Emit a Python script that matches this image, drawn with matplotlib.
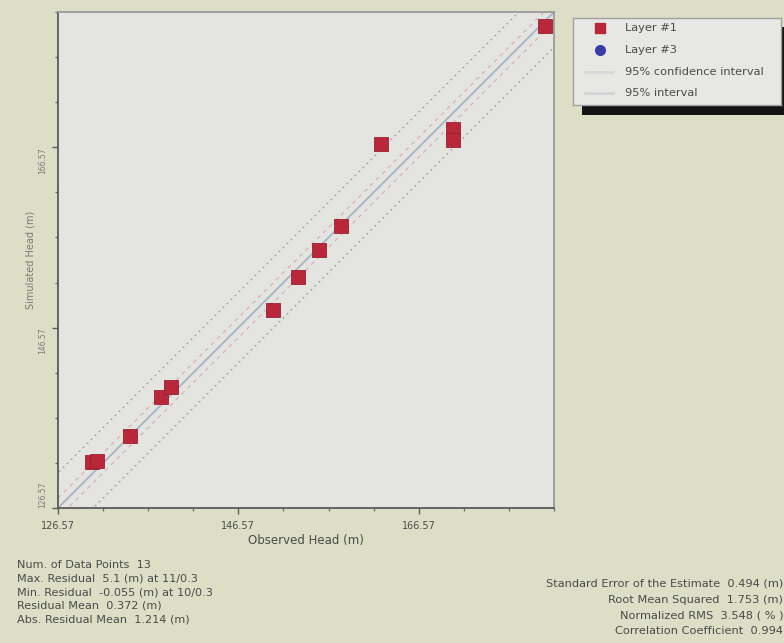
import matplotlib
matplotlib.use("Agg")
import matplotlib.pyplot as plt
from matplotlib.patches import Rectangle
from matplotlib.ticker import FixedLocator
import numpy as np

plt.rcParams['font.family'] = ['DejaVu Sans']

# Calibration data: observed vs. simulated heads (Layer #1)
observed = [130.31, 130.93, 134.55, 137.99, 139.06, 150.37, 153.21,
            155.54, 157.94, 162.38, 170.40, 170.40, 180.56]
simulated = [131.68, 131.79, 134.57, 138.90, 140.01, 148.54, 152.24,
             155.20, 157.83, 166.98, 168.65, 167.35, 180.01]

axis_min, axis_max = 126.57, 181.57
major_ticks = [126.57, 146.57, 166.57]
major_labels = ["126.57", "146.57", "166.57"]
minor_ticks = [131.57, 136.57, 141.57, 151.57, 156.57, 161.57, 171.57, 176.57, 181.57]

conf_half_width = 1.1    # 95% confidence interval about the 1:1 line
pred_half_width = 3.9    # 95% interval about the 1:1 line

legend_labels = ["Layer #1", "Layer #3", "95% confidence interval", "95% interval"]

stats_left = ["Num. of Data Points  13",
              "Max. Residual  5.1 (m) at 11/0.3",
              "Min. Residual  -0.055 (m) at 10/0.3",
              "Residual Mean  0.372 (m)",
              "Abs. Residual Mean  1.214 (m)"]
stats_right = ["Standard Error of the Estimate  0.494 (m)",
               "Root Mean Squared  1.753 (m)",
               "Normalized RMS  3.548 ( % )",
               "Correlation Coefficient  0.994"]

W, H = 784, 643
fig_bg = '#dddec6'
ax_bg = '#e4e5e0'
red = '#b8283a'
blue = '#3c3ca8'
txt = '#4a4a4a'

fig = plt.figure(figsize=(W / 100, H / 100), dpi=100, facecolor=fig_bg)


def fx(px):
    return px / W


def fy(py):
    return 1 - py / H


ax = fig.add_axes([fx(58), fy(508), fx(554) - fx(58), fy(12) - fy(508)], facecolor=ax_bg)
ax.set_xlim(axis_min, axis_max)
ax.set_ylim(axis_min, axis_max)

# 1:1 line and interval bands
ref = np.array([axis_min - 10, axis_max + 10])
ax.plot(ref, ref, color='#a9b6c6', lw=1.4, zorder=2)
for s in (-1, 1):
    ax.plot(ref, ref + s * conf_half_width, color='#d8b6c0', lw=1.0,
            ls=(0, (3, 3)), zorder=2)
    ax.plot(ref, ref + s * pred_half_width, color='#a8a8a8', lw=1.1,
            ls=(0, (1.2, 2.5)), zorder=2)

ax.scatter(observed, simulated, marker='s', s=90, color=red,
           edgecolors='#9a2030', linewidths=0.6, zorder=4)

for sp in ax.spines.values():
    sp.set_color('#5a5a5a')
    sp.set_linewidth(1.3)
ax.spines['top'].set_color('#9a9a9a')
ax.spines['right'].set_color('#9a9a9a')

ax.xaxis.set_major_locator(FixedLocator(major_ticks))
ax.yaxis.set_major_locator(FixedLocator(major_ticks))
ax.xaxis.set_minor_locator(FixedLocator(minor_ticks))
ax.yaxis.set_minor_locator(FixedLocator(minor_ticks))
ax.set_xticklabels(major_labels)
ax.set_yticklabels(major_labels)
ax.tick_params(which='major', length=4.5, width=1.0, color='#5a5a5a', direction='out')
ax.tick_params(which='minor', length=2.5, width=0.9, color='#6a6a6a', direction='out')
ax.tick_params(axis='x', which='major', labelsize=7, labelcolor=txt, pad=5)
ax.tick_params(axis='y', which='major', labelsize=5.5, labelcolor='#7a7a7a', pad=3,
               labelrotation=90)
for i, lab in enumerate(ax.get_yticklabels()):
    lab.set_va('bottom' if i == 0 else 'top')
    lab.set_ha('right')

ax.set_xlabel("Observed Head (m)", fontsize=8.5, color=txt, labelpad=2)
ax.set_ylabel("Simulated Head (m)", fontsize=7, color='#7a7a7a', labelpad=2)

# Legend box with drop shadow
shadow = Rectangle((fx(582), fy(115)), fx(800) - fx(582), fy(27) - fy(115),
                   transform=fig.transFigure, facecolor='#141414', edgecolor='none',
                   zorder=-1)
fig.patches.append(shadow)

lax = fig.add_axes([fx(573), fy(105), fx(781) - fx(573), fy(18) - fy(105)],
                   facecolor='#e7e8e3')
lax.set_xlim(0, 1)
lax.set_ylim(0, 1)
lax.set_xticks([])
lax.set_yticks([])
for sp in lax.spines.values():
    sp.set_color('#a0a0a0')
    sp.set_linewidth(1.0)

rows = [0.885, 0.632, 0.379, 0.138]
lax.plot([0.13], [rows[0]], marker='s', ms=6.5, color=red, ls='none')
lax.plot([0.13], [rows[1]], marker='o', ms=7, color=blue, ls='none')
lax.plot([0.06, 0.19], [rows[2]] * 2, color='#d5d9dd', lw=2)
lax.plot([0.06, 0.19], [rows[3]] * 2, color='#cfd3d6', lw=2)
for r, lab in zip(rows, legend_labels):
    lax.text(0.25, r, lab, fontsize=8.2, color=txt, va='center', ha='left')

# Summary statistics
for i, line in enumerate(stats_left):
    fig.text(fx(17), fy(565 + 13.6 * i), line, fontsize=8.1, color=txt,
             va='center', ha='left')
for i, line in enumerate(stats_right):
    fig.text(fx(783), fy(584 + 15.8 * i), line, fontsize=8.2, color=txt,
             va='center', ha='right')

fig.savefig("out.png", dpi=100, facecolor=fig_bg)
